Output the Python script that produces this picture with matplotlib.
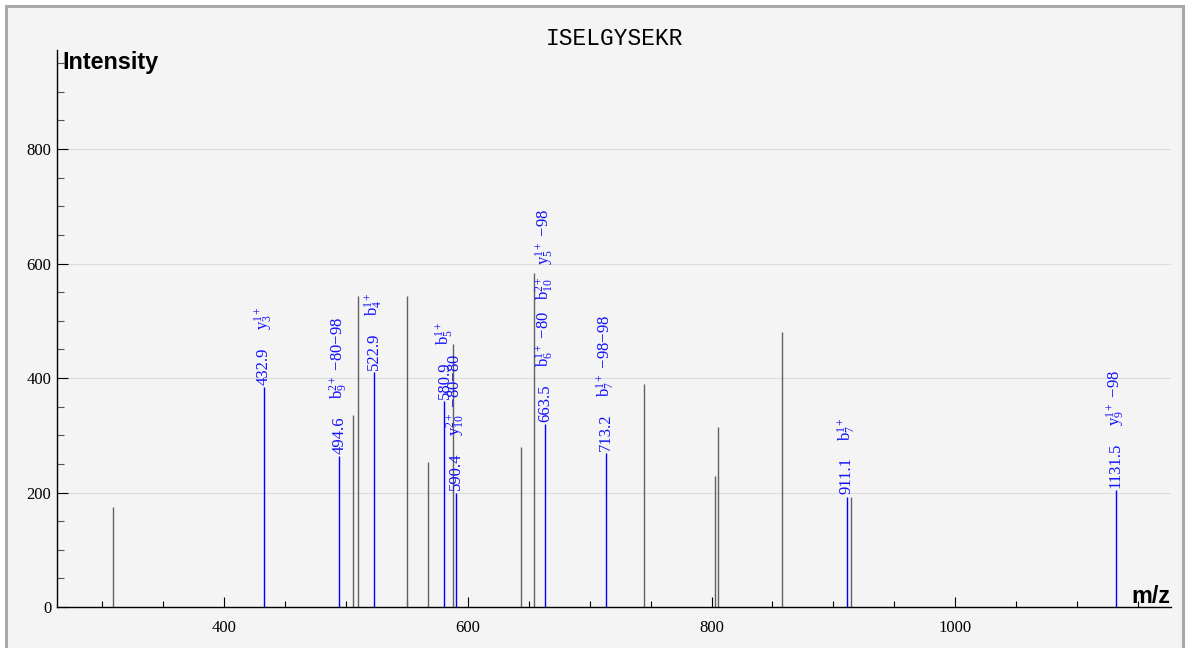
import matplotlib
matplotlib.use("Agg")
import matplotlib.pyplot as plt
from matplotlib.patches import Rectangle
from matplotlib.ticker import MultipleLocator, FixedLocator

# --- data ---
peptide = "ISELGYSEKR"

# unmatched peaks (gray)
other_mz = [309.0, 506.0, 510.0, 550.0, 567.0, 587.5, 643.5, 654.5,
            745.0, 802.5, 805.5, 857.5, 914.5]
other_int = [175, 335, 543, 544, 254, 459, 280, 584,
             390, 229, 314, 480, 193]

# matched peaks (blue) with their ion annotations, bottom to top
match_mz = [432.9, 494.6, 522.9, 580.9, 590.4, 663.5, 713.2, 911.1, 1131.5]
match_int = [385, 264, 411, 359, 200, 320, 269, 193, 204]
match_ions = [
    [r"$\mathrm{y}_{3}^{1+}$"],
    [r"$\mathrm{b}_{9}^{2+}$ −80−98"],
    [r"$\mathrm{b}_{4}^{1+}$"],
    [r"$\mathrm{b}_{5}^{1+}$"],
    [r"$\mathrm{y}_{10}^{2+}$ −80−80"],
    [r"$\mathrm{b}_{6}^{1+}$ −80", r"$\mathrm{b}_{10}^{2+}$", r"$\mathrm{y}_{5}^{1+}$ −98"],
    [r"$\mathrm{b}_{7}^{1+}$ −98−98"],
    [r"$\mathrm{b}_{7}^{1+}$"],
    [r"$\mathrm{y}_{9}^{1+}$ −98"],
]

x_major = [400, 600, 800, 1000]
y_major = [0, 200, 400, 600, 800]

plt.rcParams["font.family"] = "Liberation Serif"
plt.rcParams["mathtext.fontset"] = "custom"
plt.rcParams["mathtext.rm"] = "Liberation Serif"
plt.rcParams["mathtext.it"] = "Liberation Serif:italic"
plt.rcParams["mathtext.bf"] = "Liberation Serif:bold"

fig = plt.figure(figsize=(11.86, 6.48), dpi=100, facecolor="white")
# panel background with gray frame
fig.patches.append(Rectangle((6 / 1186, -0.02), 1177 / 1186, 1.02 - 6 / 648,
                             transform=fig.transFigure, fc="#f4f4f4",
                             ec="#a8a8a8", lw=2.2, zorder=-10))

ax = fig.add_axes([57 / 1186, 41 / 648, 1114 / 1186, 557 / 648])
ax.patch.set_alpha(0)
ax.set_xlim(263, 1177)
ax.set_ylim(0, 973)

ax.vlines(other_mz, 0, other_int, colors="#606060", lw=1.0, zorder=2)
ax.vlines(match_mz, 0, match_int, colors="#0000ff", lw=1.0, zorder=3)

for s in ["top", "right"]:
    ax.spines[s].set_visible(False)
for s in ["left", "bottom"]:
    ax.spines[s].set_linewidth(1.0)
    ax.spines[s].set_zorder(5)

ax.xaxis.set_major_locator(FixedLocator(x_major))
ax.xaxis.set_minor_locator(MultipleLocator(50))
ax.yaxis.set_major_locator(FixedLocator(y_major))
ax.yaxis.set_minor_locator(MultipleLocator(50))
ax.tick_params(axis="both", which="both", direction="in", width=0.8, labelsize=12)
ax.tick_params(axis="x", which="major", length=7, pad=9)
ax.tick_params(axis="x", which="minor", length=4)
ax.tick_params(axis="y", which="major", length=8, pad=4)
ax.tick_params(axis="y", which="minor", length=5, color="#555555")
ax.grid(axis="y", which="major", color="#dcdcdc", lw=0.8, zorder=0)
ax.set_axisbelow(True)

ax.set_title(peptide, fontfamily="Liberation Mono", fontsize=16.5, pad=3)
ax.text(0.005, 0.977, "Intensity", transform=ax.transAxes, ha="left",
        va="center", fontfamily="Liberation Sans", fontweight="bold", fontsize=16.8)
ax.text(0.999, 0.007, "m/z", transform=ax.transAxes, ha="right",
        va="baseline", fontfamily="Liberation Sans", fontweight="bold", fontsize=16.8)

# peak labels: m/z value right above the peak, ion names stacked on top
fig.canvas.draw()
rend = fig.canvas.get_renderer()
pt = 72.0 / fig.dpi
for mz, inten, ions in zip(match_mz, match_int, match_ions):
    off = 1.5
    t = ax.annotate(f"{mz:.1f}", (mz, inten), xytext=(0, off),
                    textcoords="offset points", rotation=90, ha="center",
                    va="bottom", color="#1010ff", fontsize=12, zorder=4)
    off += t.get_window_extent(rend).height * pt + 12
    for ion in ions:
        t = ax.annotate(ion, (mz, inten), xytext=(0, off),
                        textcoords="offset points", rotation=90, ha="center",
                        va="bottom", color="#1010ff", fontsize=12, zorder=4)
        off += t.get_window_extent(rend).height * pt + 8

fig.savefig("out.png", dpi=100)
